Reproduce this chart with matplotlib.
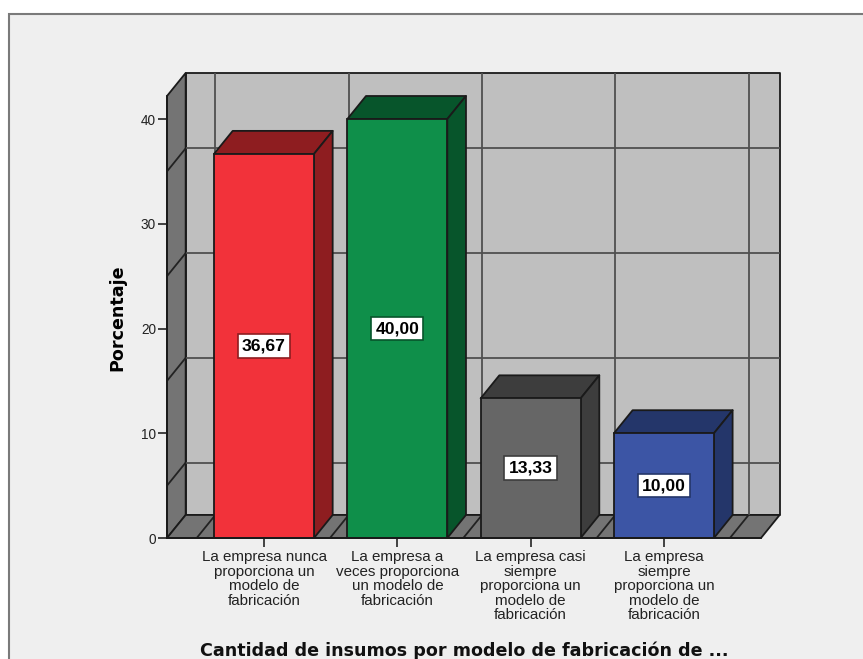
"""
Grafico de barras 3D (estilo SPSS) de porcentaje por categoria.
"""
import matplotlib
matplotlib.use("Agg")
import matplotlib.pyplot as plt
from matplotlib.patches import Polygon, Rectangle

W, H = 863, 659

CATEGORIES = [
    "La empresa nunca\nproporciona un\nmodelo de\nfabricación",
    "La empresa a\nveces proporciona\nun modelo de\nfabricación",
    "La empresa casi\nsiempre\nproporciona un\nmodelo de\nfabricación",
    "La empresa\nsiempre\nproporciona un\nmodelo de\nfabricación",
]
VALUES = [36.67, 40.00, 13.33, 10.00]
Y_TICKS = [0, 10, 20, 30, 40]
GRID_Y = [5, 15, 25, 35]
FRONT_COLORS = ["#F2323A", "#0F8F4A", "#666666", "#3C55A5"]
DARK_COLORS = ["#8E1D20", "#07552B", "#3D3D3D", "#24366A"]
XLABEL = "Cantidad de insumos por modelo de fabricación de ..."
YLABEL = "Porcentaje"

# profundidad de la caja, en unidades de datos
DX = 0.14
DY = 2.2
BAR_W = 0.75
XMIN, XMAX = -0.7277, 3.728
YMAX = 42.2
EDGE = "#1A1A1A"
GRID = "#505050"

plt.rcParams["font.family"] = ["Liberation Sans", "DejaVu Sans"]

fig = plt.figure(figsize=(W / 100, H / 100), dpi=100, facecolor="white")
fig.add_artist(Rectangle((8.5 / W, -0.01), 1.1, 1 - 14 / H + 0.01,
                         transform=fig.transFigure, facecolor="#EFEFEF",
                         edgecolor="#7A7A7A", linewidth=1.5, zorder=-5))

ax = fig.add_axes([167 / W, 1 - 538 / H, (761 - 167) / W, (538 - 96) / H])
ax.set_xlim(XMIN, XMAX)
ax.set_ylim(0, YMAX)
ax.patch.set_visible(False)


def poly(points, color, z, edge=EDGE, lw=1.3):
    ax.add_patch(Polygon(points, closed=True, facecolor=color, edgecolor=edge,
                         linewidth=lw, zorder=z, clip_on=False, joinstyle="round"))


def line(xs, ys, z=2, color=GRID, lw=1.3):
    ax.plot(xs, ys, color=color, linewidth=lw, zorder=z, clip_on=False,
            solid_capstyle="butt")


# paredes y piso
poly([(XMIN + DX, DY), (XMAX + DX, DY), (XMAX + DX, YMAX + DY), (XMIN + DX, YMAX + DY)], "#BFBFBF", 1)
poly([(XMIN, 0), (XMIN + DX, DY), (XMIN + DX, YMAX + DY), (XMIN, YMAX)], "#747474", 1)
poly([(XMIN, 0), (XMAX, 0), (XMAX + DX, DY), (XMIN + DX, DY)], "#747474", 1)

# grilla: horizontales en el fondo y diagonales en la pared izquierda
for gy in GRID_Y:
    line([XMIN + DX, XMAX + DX], [gy + DY, gy + DY])
    line([XMIN, XMIN + DX], [gy, gy + DY], color="#222222")

# grilla: verticales en el fondo y diagonales en el piso
for k in range(len(VALUES) + 1):
    gx = k - 0.5 + 0.135 - DX
    line([gx + DX, gx + DX], [DY, YMAX + DY])
    line([gx, gx + DX], [0, DY], color="#222222")

# barras
x = list(range(len(VALUES)))
ax.bar(x, VALUES, BAR_W, color=FRONT_COLORS, edgecolor=EDGE, linewidth=1.3, zorder=5, clip_on=False)
for i, v in enumerate(VALUES):
    left, right = i - BAR_W / 2, i + BAR_W / 2
    poly([(left, v), (right, v), (right + DX, v + DY), (left + DX, v + DY)], DARK_COLORS[i], 4)
    poly([(right, 0), (right + DX, DY), (right + DX, v + DY), (right, v)], DARK_COLORS[i], 4)
    ax.text(i, v / 2, f"{v:.2f}".replace(".", ","), ha="center", va="center",
            fontsize=12.6, fontweight="bold", color="black", zorder=7,
            bbox=dict(boxstyle="square,pad=0.24", facecolor="white", edgecolor=DARK_COLORS[i], linewidth=1.2))

# ejes
for side in ["top", "right"]:
    ax.spines[side].set_visible(False)
for side in ["left", "bottom"]:
    ax.spines[side].set_color(EDGE)
    ax.spines[side].set_linewidth(1.3)
    ax.spines[side].set_zorder(6)

ax.set_xticks(x)
ax.set_xticklabels(CATEGORIES, fontsize=10.9, color="#222222", linespacing=1.04)
ax.set_yticks(Y_TICKS)
ax.tick_params(axis="y", labelsize=9.8, labelcolor="#222222", length=6.5, width=1.3, color="#333333", pad=1.5)
ax.tick_params(axis="x", length=6.5, width=1.3, color="#333333", pad=2.5)

fig.text(117 / W, 1 - 318 / H, YLABEL, rotation=90, ha="center", va="center",
         fontsize=12.6, fontweight="bold", color="black", family="DejaVu Sans")
fig.text(464 / W, 1 - 651 / H, XLABEL, ha="center", va="center",
         fontsize=12.65, fontweight="bold", color="#111111", family="DejaVu Sans")

fig.savefig("out.png", dpi=100)
plt.close(fig)
